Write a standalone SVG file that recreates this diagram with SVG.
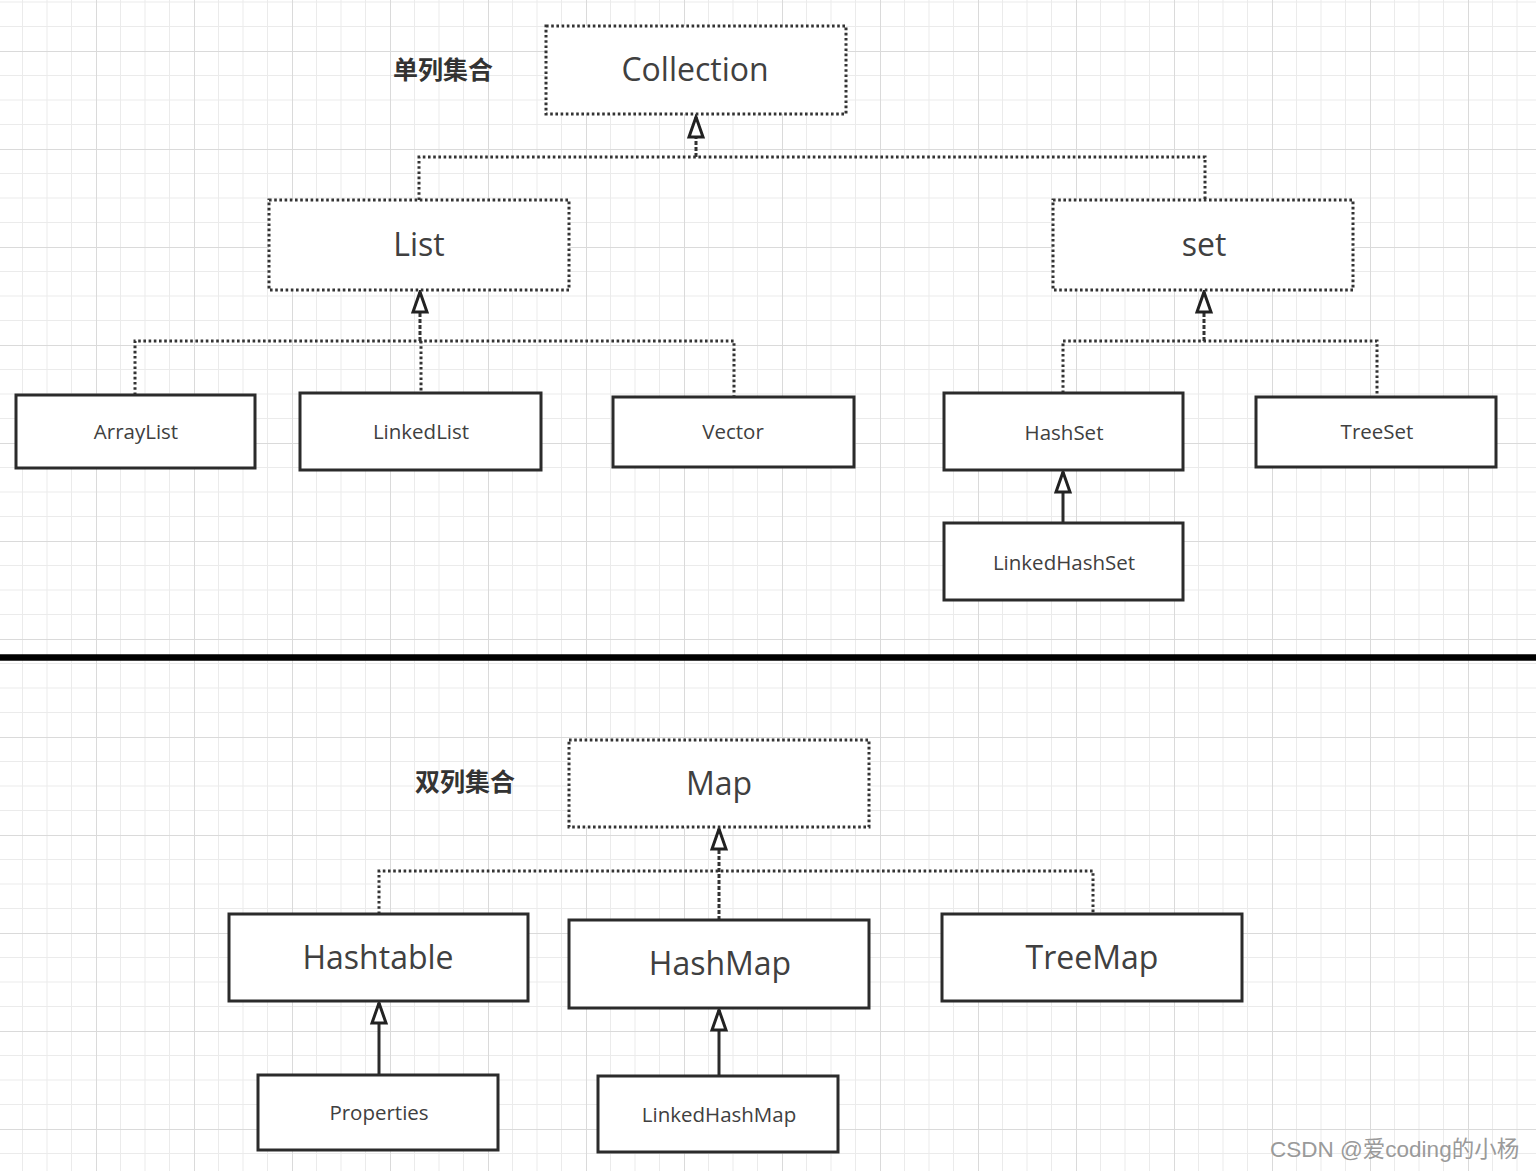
<svg xmlns="http://www.w3.org/2000/svg" width="1536" height="1171" viewBox="0 0 1536 1171">
<defs>
<pattern id="grid" x="-2" y="-47" width="98" height="98" patternUnits="userSpaceOnUse">
<path d="M24.5 0V98M49 0V98M73.5 0V98M0 24.5H98M0 49H98M0 73.5H98" stroke="#ebebeb" stroke-width="1" fill="none"/>
<path d="M0.5 0V98M0 0.5H98" stroke="#dadada" stroke-width="1" fill="none"/>
</pattern>
<marker id="tri" viewBox="0 0 26 20" markerWidth="26" markerHeight="20" refX="23" refY="10" orient="auto" markerUnits="userSpaceOnUse">
<path d="M23 10 L3 3 L3 17 Z" fill="#fff" stroke="#222" stroke-width="3" stroke-linejoin="miter"/>
</marker>
<style>
.dbox{fill:#fff;stroke:#333;stroke-width:3;stroke-dasharray:2.6 2.6}
.sbox{fill:#fff;stroke:#2b2b2b;stroke-width:3}
.big{font-family:"Open Sans","Noto Sans","Liberation Sans",sans-serif;font-size:32px;fill:#404040;text-anchor:middle}
.small{font-family:"Open Sans","Noto Sans","Liberation Sans",sans-serif;font-size:20.5px;fill:#404040;text-anchor:middle}
.cap{font-family:"Noto Sans CJK SC",sans-serif;font-size:25px;font-weight:bold;fill:#333}
.dot{fill:none;stroke:#333;stroke-width:3;stroke-dasharray:2.6 2.6}
.trunk{fill:none;stroke:#333;stroke-width:3;stroke-dasharray:4 2}
.solid{fill:none;stroke:#2b2b2b;stroke-width:3}
</style>
</defs>
<rect width="1536" height="1171" fill="#fff"/>
<rect width="1536" height="1171" fill="url(#grid)"/>

<line x1="0" y1="657.5" x2="1536" y2="657.5" stroke="#000" stroke-width="6.5"/>

<text class="cap" x="393" y="79">单列集合</text>
<text class="cap" x="415" y="791">双列集合</text>

<g id="connectors">
<path class="dot" d="M419 200V157H1205V200"/>
<path class="trunk" d="M696 157V117" marker-end="url(#tri)"/>
<path class="dot" d="M135 395V341H734V397M421 341V393"/>
<path class="trunk" d="M420 341V292" marker-end="url(#tri)"/>
<path class="dot" d="M1063 393V341H1377V397"/>
<path class="trunk" d="M1204 341V292" marker-end="url(#tri)"/>
<path class="solid" d="M1063 523V472" marker-end="url(#tri)"/>
<path class="dot" d="M379 914V871H1093V914"/>
<path class="trunk" d="M719 920V829" marker-end="url(#tri)"/>
<path class="solid" d="M379 1075V1003" marker-end="url(#tri)"/>
<path class="solid" d="M719 1076V1010" marker-end="url(#tri)"/>
</g>

<g id="collection"><rect class="dbox" x="546" y="26" width="300" height="88"/><text class="big" x="695" y="81">Collection</text></g>
<g id="list"><rect class="dbox" x="269" y="200" width="300" height="90"/><text class="big" x="419" y="256">List</text></g>
<g id="set"><rect class="dbox" x="1053" y="200" width="300" height="90"/><text class="big" x="1204" y="256">set</text></g>
<g id="arraylist"><rect class="sbox" x="16" y="395" width="239" height="73"/><text class="small" x="136" y="439">ArrayList</text></g>
<g id="linkedlist"><rect class="sbox" x="300" y="393" width="241" height="77"/><text class="small" x="421" y="439">LinkedList</text></g>
<g id="vector"><rect class="sbox" x="613" y="397" width="241" height="70"/><text class="small" x="733" y="439">Vector</text></g>
<g id="hashset"><rect class="sbox" x="944" y="393" width="239" height="77"/><text class="small" x="1064" y="440">HashSet</text></g>
<g id="treeset"><rect class="sbox" x="1256" y="397" width="240" height="70"/><text class="small" x="1377" y="439">TreeSet</text></g>
<g id="linkedhashset"><rect class="sbox" x="944" y="523" width="239" height="77"/><text class="small" x="1064" y="570">LinkedHashSet</text></g>

<g id="map"><rect class="dbox" x="569" y="740" width="300" height="87"/><text class="big" x="719" y="795">Map</text></g>
<g id="hashtable"><rect class="sbox" x="229" y="914" width="299" height="87"/><text class="big" x="378" y="969">Hashtable</text></g>
<g id="hashmap"><rect class="sbox" x="569" y="920" width="300" height="88"/><text class="big" x="720" y="975">HashMap</text></g>
<g id="treemap"><rect class="sbox" x="942" y="914" width="300" height="87"/><text class="big" x="1092" y="969">TreeMap</text></g>
<g id="properties"><rect class="sbox" x="258" y="1075" width="240" height="75"/><text class="small" x="379" y="1120">Properties</text></g>
<g id="linkedhashmap"><rect class="sbox" x="598" y="1076" width="240" height="76"/><text class="small" x="719" y="1122">LinkedHashMap</text></g>

<text x="1270" y="1157" font-family="Liberation Sans,Noto Sans CJK SC,sans-serif" font-size="22.5" fill="#9a9a9a">CSDN @爱coding的小杨</text>
</svg>
